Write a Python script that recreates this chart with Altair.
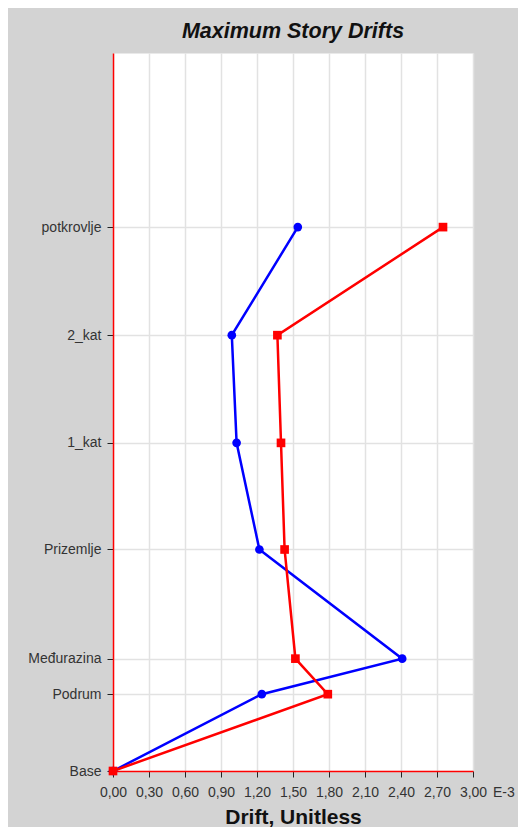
import altair as alt
import pandas as pd

# Story levels (bottom to top) and their elevations
stories = ["Base", "Podrum", "Međurazina", "Prizemlje", "1_kat", "2_kat", "potkrovlje"]
elevations = [0.0, 2.14, 3.13, 6.17, 9.14, 12.14, 15.15]

# Drift values (x 1E-3)
drift_blue = [0.0, 1.24, 2.41, 1.22, 1.03, 0.99, 1.54]
drift_red = [0.0, 1.79, 1.52, 1.43, 1.40, 1.37, 2.75]

series_names = ["Drift X", "Drift Y"]
series_colors = ["#0000ff", "#ff0000"]
series_shapes = ["circle", "square"]

x_ticks = [0.0, 0.3, 0.6, 0.9, 1.2, 1.5, 1.8, 2.1, 2.4, 2.7, 3.0]

rows = []
for s, e, b, r in zip(stories, elevations, drift_blue, drift_red):
    rows.append({"story": s, "elev": e, "drift": b, "series": series_names[0]})
    rows.append({"story": s, "elev": e, "drift": r, "series": series_names[1]})
df = pd.DataFrame(rows)

# label expression for the story axis
expr = "''"
for s, e in zip(reversed(stories), reversed(elevations)):
    expr = f"abs(datum.value - {e}) < 0.001 ? '{s}' : ({expr})"

FONT = "Liberation Sans"

x_enc = alt.X(
    "drift:Q",
    scale=alt.Scale(domain=[0, 3.0], nice=False, zero=True),
    axis=alt.Axis(
        values=x_ticks,
        tickCount=30,
        labelExpr="replace(format(datum.value, '.2f'), '.', ',')",
        title="Drift, Unitless",
        titleFontSize=21,
        titleFontWeight="bold",
        titleFont=FONT,
        titleColor="#111111",
        titlePadding=7,
        labelFontSize=14,
        labelFont=FONT,
        labelColor="#333333",
        labelPadding=8,
        tickSize=6,
        tickColor="#222222",
        domainColor="#ff0000",
        domainWidth=1.5,
        gridColor="#e2e2e2",
        gridWidth=1.5,
        labelFlush=False,
        labelOverlap=False,
    ),
)
y_enc = alt.Y(
    "elev:Q",
    scale=alt.Scale(domain=[0, 20], nice=False, zero=True),
    axis=alt.Axis(
        values=elevations,
        tickCount=30,
        labelExpr=expr,
        title=None,
        labelFontSize=14,
        labelFont=FONT,
        labelColor="#333333",
        labelPadding=6,
        tickSize=6,
        tickColor="#222222",
        domainColor="#ff0000",
        domainWidth=1.5,
        gridColor="#e2e2e2",
        gridWidth=1.5,
        labelFlush=False,
        labelOverlap=False,
    ),
)
color_enc = alt.Color(
    "series:N",
    scale=alt.Scale(domain=series_names, range=series_colors),
    legend=None,
)
shape_enc = alt.Shape(
    "series:N",
    scale=alt.Scale(domain=series_names, range=series_shapes),
    legend=None,
)

base = alt.Chart(df)

lines = base.mark_line(strokeWidth=2.5).encode(
    x=x_enc, y=y_enc, color=color_enc, detail="series:N", order="elev:Q"
)
points = base.mark_point(filled=True, size=75, opacity=1).encode(
    x=x_enc, y=y_enc, color=color_enc, shape=shape_enc
)

unit_df = pd.DataFrame({"drift": [3.0], "elev": [0.0], "label": ["E-3"]})
unit_text = alt.Chart(unit_df).mark_text(
    align="left", baseline="middle", dx=20, dy=22, fontSize=14, font=FONT, color="#333333"
).encode(
    x=x_enc,
    y=y_enc,
    text="label:N",
)

chart = alt.layer(lines, points, unit_text).properties(
    width=360,
    height=718,
    title=alt.TitleParams(
        "Maximum Story Drifts",
        fontSize=21.5,
        fontStyle="italic",
        fontWeight="bold",
        font=FONT,
        color="#111111",
        anchor="middle",
        frame="group",
        offset=11,
    ),
    padding={"left": 105, "top": 45, "right": 45, "bottom": 56},
    autosize=alt.AutoSizeParams(type="none"),
    background="#d3d3d3",
).configure_view(fill="white", stroke="transparent")

chart.save("out.html", embed_options={"renderer": "svg", "actions": False})
